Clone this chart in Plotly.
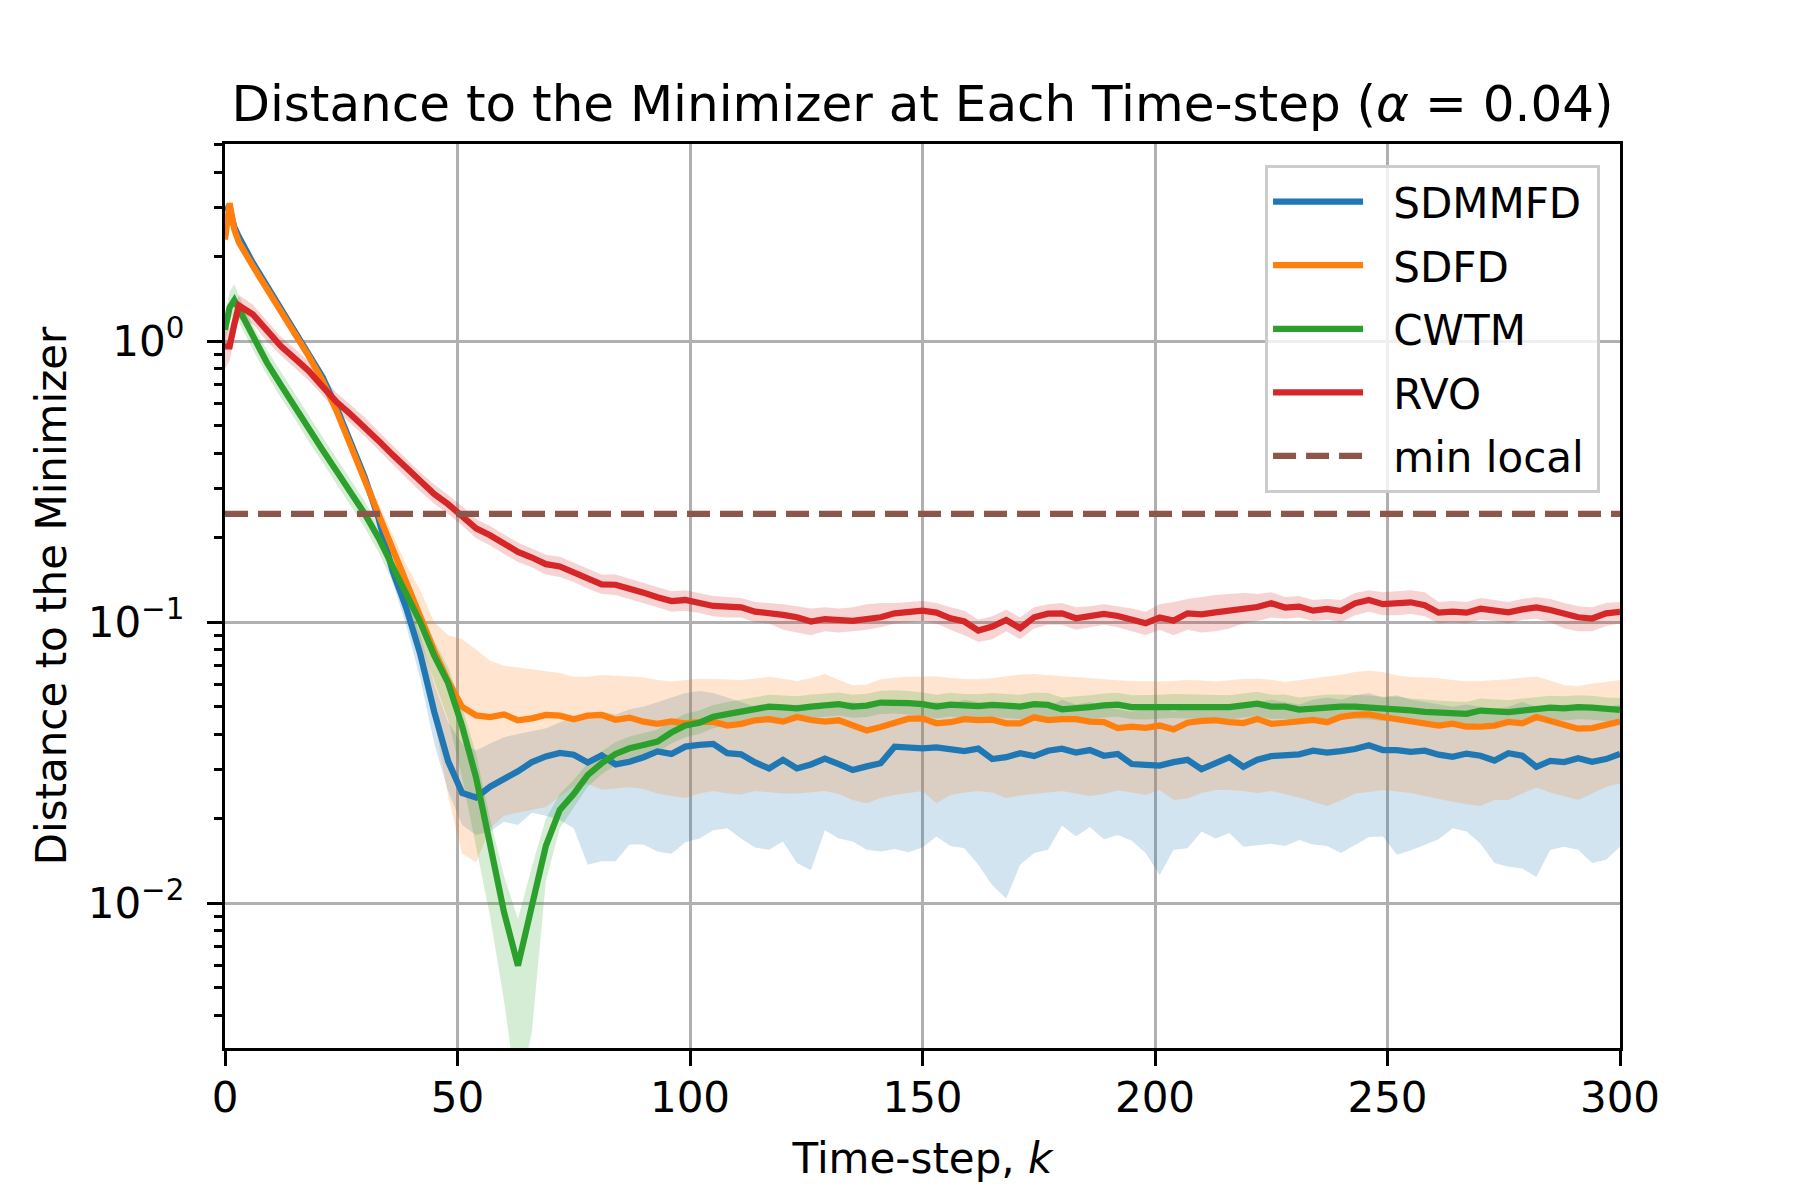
import plotly.graph_objects as go

# time steps: 0, 1, 2, then every 3 steps up to 300
k = [0, 1, 2] + list(range(3, 301, 3))

sdmmfd_mean = [
    3.0, 2.95, 2.55, 2.35, 1.9, 1.58, 1.32, 1.1, 0.91, 0.745, 0.58, 0.44, 0.33, 0.235,
    0.153, 0.112, 0.077, 0.048, 0.032, 0.0247, 0.0238, 0.026, 0.0275, 0.0295, 0.0318, 0.0333, 0.0343, 0.0338,
    0.0317, 0.0336, 0.0312, 0.0319, 0.0331, 0.0347, 0.034, 0.0361, 0.0366, 0.0369, 0.0342, 0.0339, 0.0317,
    0.0302, 0.0324, 0.0302, 0.0312, 0.0327, 0.0313, 0.0298, 0.0307, 0.0315, 0.0361, 0.0359, 0.0356,
    0.0359, 0.0354, 0.0348, 0.0355, 0.0326, 0.0331, 0.0342, 0.0334, 0.0349, 0.0355, 0.0344, 0.0351, 0.0335,
    0.034, 0.0313, 0.0311, 0.0309, 0.0318, 0.0324, 0.030, 0.0315, 0.0331, 0.0306, 0.0324, 0.0334,
    0.0338, 0.0339, 0.0349, 0.0344, 0.0348, 0.0354, 0.0365, 0.0351, 0.0351, 0.0346, 0.0349, 0.0338, 0.0332,
    0.0341, 0.0335, 0.0322, 0.0342, 0.0335, 0.0306, 0.0321, 0.0318, 0.0328, 0.0319, 0.0326, 0.034,
]
sdmmfd_low = [
    2.9, 2.85, 2.45, 2.25, 1.83, 1.52, 1.27, 1.06, 0.875, 0.715, 0.555, 0.42, 0.312, 0.22,
    0.14, 0.097, 0.063, 0.037, 0.025, 0.019, 0.0175, 0.018, 0.0195, 0.019, 0.021, 0.0205, 0.0198, 0.0185,
    0.0137, 0.0141, 0.0141, 0.0162, 0.0162, 0.0153, 0.015, 0.0165, 0.017, 0.0182, 0.0185, 0.017, 0.0158,
    0.0155, 0.0166, 0.0139, 0.0131, 0.0182, 0.017, 0.0166, 0.0155, 0.0153, 0.0156, 0.0152, 0.0158,
    0.0173, 0.016, 0.0157, 0.0137, 0.0116, 0.0104, 0.0137, 0.0151, 0.0155, 0.0189, 0.0173, 0.0187, 0.0169,
    0.0175, 0.0167, 0.0151, 0.0126, 0.0155, 0.0157, 0.018, 0.017, 0.0178, 0.0159, 0.0161, 0.0163,
    0.016, 0.0168, 0.0162, 0.016, 0.0151, 0.0161, 0.0172, 0.0173, 0.0149, 0.0154, 0.0161, 0.0169, 0.0185,
    0.018, 0.0163, 0.0139, 0.0135, 0.0133, 0.0124, 0.0155, 0.0159, 0.0155, 0.0139, 0.0143, 0.0159,
]
sdmmfd_high = [
    3.1, 3.05, 2.65, 2.45, 1.97, 1.64, 1.37, 1.14, 0.945, 0.775, 0.605, 0.46, 0.35, 0.25,
    0.168, 0.125, 0.09, 0.06, 0.044, 0.037, 0.035, 0.037, 0.039, 0.04, 0.041, 0.042, 0.044, 0.046,
    0.047, 0.048, 0.047, 0.049, 0.05, 0.052, 0.054, 0.056, 0.057, 0.056, 0.054, 0.052, 0.05,
    0.049, 0.05, 0.051, 0.05, 0.049, 0.051, 0.052, 0.05, 0.051, 0.053, 0.052, 0.051,
    0.052, 0.051, 0.053, 0.052, 0.05, 0.049, 0.051, 0.052, 0.05, 0.053, 0.051, 0.052, 0.05,
    0.049, 0.048, 0.049, 0.05, 0.048, 0.05, 0.049, 0.05, 0.051, 0.05, 0.052, 0.053,
    0.052, 0.051, 0.053, 0.054, 0.053, 0.055, 0.056, 0.054, 0.055, 0.053, 0.052, 0.051, 0.05,
    0.051, 0.05, 0.049, 0.05, 0.052, 0.05, 0.049, 0.051, 0.05, 0.049, 0.05, 0.051,
]

sdfd_mean = [
    2.3, 3.1, 2.5, 2.25, 1.85, 1.54, 1.29, 1.07, 0.885, 0.724, 0.564, 0.426, 0.321, 0.243,
    0.183, 0.137, 0.1035, 0.079, 0.0617, 0.050, 0.0466, 0.046, 0.047, 0.0448, 0.0455, 0.0468, 0.0465, 0.0452,
    0.0465, 0.0468, 0.045, 0.0458, 0.0443, 0.0435, 0.0444, 0.0437, 0.0441, 0.0443, 0.0429, 0.0435, 0.0448,
    0.0452, 0.0443, 0.046, 0.0449, 0.0443, 0.0448, 0.0431, 0.0412, 0.0424, 0.044, 0.0454, 0.0455,
    0.0437, 0.0441, 0.0452, 0.0449, 0.045, 0.0437, 0.0437, 0.0459, 0.0449, 0.0452, 0.0452, 0.0443, 0.0441,
    0.042, 0.0425, 0.0421, 0.0429, 0.0416, 0.0439, 0.0446, 0.0448, 0.0441, 0.0438, 0.0453, 0.0435,
    0.0439, 0.0446, 0.0449, 0.0441, 0.0461, 0.0468, 0.047, 0.046, 0.0453, 0.0447, 0.0438, 0.0429, 0.0436,
    0.0425, 0.0425, 0.0429, 0.0442, 0.0437, 0.046, 0.0446, 0.0429, 0.0418, 0.042, 0.0433, 0.0443,
]
sdfd_low = [
    2.2, 2.95, 2.42, 2.18, 1.8, 1.5, 1.25, 1.04, 0.86, 0.7, 0.545, 0.41, 0.305, 0.225,
    0.16, 0.11, 0.075, 0.045, 0.024, 0.015, 0.014, 0.0185, 0.0205, 0.021, 0.0215, 0.022, 0.024, 0.026,
    0.0266, 0.0254, 0.0256, 0.0259, 0.0255, 0.0246, 0.0241, 0.0237, 0.0246, 0.0251, 0.0246, 0.0244, 0.0251,
    0.0249, 0.0246, 0.0246, 0.0248, 0.0251, 0.0245, 0.0233, 0.0227, 0.0237, 0.0243, 0.0247, 0.0251,
    0.0227, 0.0243, 0.0248, 0.0251, 0.0248, 0.0237, 0.0242, 0.0245, 0.0249, 0.0251, 0.0246, 0.0241, 0.0245,
    0.0252, 0.0248, 0.0243, 0.0253, 0.0233, 0.0236, 0.0247, 0.0253, 0.0253, 0.0251, 0.0247, 0.0251,
    0.0245, 0.0238, 0.023, 0.0222, 0.0232, 0.0246, 0.0249, 0.0253, 0.025, 0.0247, 0.0241, 0.0235, 0.023,
    0.0225, 0.0222, 0.0233, 0.0233, 0.0246, 0.0258, 0.0248, 0.024, 0.0233, 0.0246, 0.026, 0.0267,
]
sdfd_high = [
    2.4, 3.25, 2.6, 2.33, 1.91, 1.59, 1.33, 1.1, 0.915, 0.75, 0.585, 0.445, 0.34, 0.265,
    0.205, 0.16, 0.13, 0.1, 0.09, 0.087, 0.08, 0.073, 0.070, 0.069, 0.068, 0.067, 0.066, 0.064,
    0.064, 0.0649, 0.0645, 0.0642, 0.0637, 0.0623, 0.0615, 0.0623, 0.063, 0.0628, 0.0625, 0.0623, 0.063,
    0.064, 0.063, 0.0618, 0.0632, 0.0655, 0.0623, 0.0597, 0.06, 0.0627, 0.0635, 0.064, 0.064,
    0.0643, 0.0633, 0.0628, 0.0627, 0.0632, 0.0642, 0.0652, 0.0655, 0.0647, 0.0642, 0.0639, 0.0632, 0.0625,
    0.0622, 0.0618, 0.0615, 0.0615, 0.0618, 0.0623, 0.062, 0.0615, 0.0622, 0.0628, 0.063, 0.0625,
    0.0613, 0.0622, 0.0635, 0.0643, 0.065, 0.0665, 0.0672, 0.0665, 0.0647, 0.0639, 0.0635, 0.0632, 0.0623,
    0.0617, 0.0618, 0.0622, 0.0627, 0.0635, 0.064, 0.062, 0.0597, 0.0592, 0.0606, 0.0613, 0.0623,
]

cwtm_mean = [
    1.1, 1.32, 1.4, 1.3, 1.03, 0.84, 0.70, 0.59, 0.49, 0.41, 0.345, 0.29, 0.244, 0.20,
    0.158, 0.126, 0.1, 0.076, 0.0607, 0.0427, 0.028, 0.0162, 0.0093, 0.006, 0.0098, 0.016, 0.0215, 0.0245,
    0.0286, 0.0315, 0.034, 0.0356, 0.0366, 0.0376, 0.0405, 0.0429, 0.0439, 0.0461, 0.0471, 0.0481, 0.0493,
    0.0501, 0.0498, 0.0494, 0.0501, 0.0507, 0.0511, 0.0501, 0.0505, 0.0518, 0.052, 0.0516, 0.0511,
    0.0501, 0.0509, 0.0504, 0.0503, 0.0508, 0.0504, 0.0501, 0.0511, 0.0508, 0.049, 0.0493, 0.0499, 0.0506,
    0.0509, 0.0499, 0.0499, 0.0501, 0.0504, 0.0503, 0.0501, 0.0501, 0.0499, 0.0506, 0.0513, 0.0501,
    0.0501, 0.0489, 0.0494, 0.0501, 0.0501, 0.0501, 0.0498, 0.0492, 0.0493, 0.0486, 0.048, 0.0477, 0.0474,
    0.0472, 0.0485, 0.0482, 0.0479, 0.0485, 0.0492, 0.0497, 0.0494, 0.0499, 0.0497, 0.049, 0.0488,
]
cwtm_low = [
    0.98, 1.18, 1.26, 1.17, 0.93, 0.76, 0.63, 0.53, 0.44, 0.37, 0.31, 0.26, 0.218, 0.178,
    0.14, 0.11, 0.085, 0.062, 0.045, 0.028, 0.016, 0.009, 0.0045, 0.002, 0.0035, 0.012, 0.0185, 0.022,
    0.026, 0.0288, 0.031, 0.0325, 0.0335, 0.0344, 0.037, 0.039, 0.040, 0.042, 0.043, 0.044, 0.045,
    0.0457, 0.0453, 0.045, 0.0456, 0.0462, 0.0466, 0.0457, 0.046, 0.0472, 0.0474, 0.047, 0.0466,
    0.0455, 0.0462, 0.0456, 0.0455, 0.046, 0.0456, 0.0452, 0.0462, 0.046, 0.0443, 0.0446, 0.0452, 0.0458,
    0.0461, 0.0452, 0.0451, 0.0453, 0.0456, 0.0455, 0.0453, 0.0452, 0.0451, 0.0458, 0.0464, 0.0453,
    0.0454, 0.0443, 0.0447, 0.0454, 0.0454, 0.0453, 0.0451, 0.0445, 0.0446, 0.044, 0.0435, 0.0432, 0.0429,
    0.0428, 0.0439, 0.0437, 0.0434, 0.0439, 0.0446, 0.045, 0.0447, 0.0452, 0.045, 0.0444, 0.0442,
]
cwtm_high = [
    1.25, 1.5, 1.6, 1.45, 1.14, 0.93, 0.78, 0.655, 0.545, 0.455, 0.383, 0.322, 0.27, 0.222,
    0.176, 0.14, 0.112, 0.086, 0.069, 0.05, 0.034, 0.02, 0.0125, 0.0088, 0.0135, 0.02, 0.0245, 0.0275,
    0.0315, 0.0347, 0.0375, 0.0392, 0.0403, 0.0415, 0.0447, 0.0473, 0.0485, 0.0508, 0.052, 0.053, 0.0543,
    0.0552, 0.0549, 0.0545, 0.0553, 0.0559, 0.0563, 0.0552, 0.0557, 0.0571, 0.0573, 0.0569, 0.0563,
    0.0552, 0.0561, 0.0556, 0.0555, 0.056, 0.0556, 0.0552, 0.0563, 0.056, 0.054, 0.0544, 0.055, 0.0558,
    0.0561, 0.055, 0.055, 0.0552, 0.0556, 0.0555, 0.0552, 0.0552, 0.055, 0.0558, 0.0566, 0.0552,
    0.0553, 0.054, 0.0545, 0.0553, 0.0553, 0.0552, 0.0549, 0.0543, 0.0544, 0.0536, 0.053, 0.0527, 0.0523,
    0.0521, 0.0535, 0.0532, 0.0528, 0.0535, 0.0543, 0.0548, 0.0545, 0.055, 0.0548, 0.054, 0.0538,
]

rvo_mean = [
    0.96, 0.96, 1.15, 1.34, 1.245, 1.09, 0.962, 0.869, 0.784, 0.69, 0.608, 0.55, 0.496, 0.443,
    0.395, 0.353, 0.316, 0.286, 0.263, 0.24, 0.216, 0.204, 0.19, 0.178, 0.170, 0.161, 0.158, 0.151,
    0.1434, 0.1365, 0.136, 0.132, 0.1275, 0.1227, 0.119, 0.120, 0.1175, 0.1143, 0.1137, 0.113, 0.1091,
    0.1082, 0.1062, 0.1042, 0.1006, 0.1027, 0.1014, 0.1011, 0.1027, 0.1042, 0.1076, 0.1088, 0.110,
    0.1082, 0.1033, 0.1006, 0.0934, 0.0965, 0.1019, 0.0952, 0.1042, 0.1073, 0.1076, 0.1033, 0.1047, 0.107,
    0.1053, 0.1025, 0.0992, 0.104, 0.1014, 0.1076, 0.1068, 0.1085, 0.110, 0.1121, 0.1133, 0.1168,
    0.1128, 0.1137, 0.110, 0.1115, 0.1097, 0.1168, 0.1201, 0.116, 0.1163, 0.1178, 0.115, 0.1082, 0.1091,
    0.1082, 0.1118, 0.1103, 0.1085, 0.1112, 0.113, 0.1106, 0.1076, 0.1042, 0.1031, 0.1076, 0.1088,
]
rvo_low = [
    0.8, 0.85, 1.02, 1.2, 1.15, 1.0, 0.89, 0.8, 0.725, 0.64, 0.565, 0.51, 0.46, 0.41,
    0.365, 0.326, 0.292, 0.264, 0.243, 0.221, 0.199, 0.188, 0.175, 0.164, 0.157, 0.148, 0.145, 0.139,
    0.132, 0.126, 0.125, 0.121, 0.117, 0.113, 0.109, 0.110, 0.108, 0.105, 0.104, 0.104, 0.1,
    0.099, 0.094, 0.092, 0.09, 0.093, 0.092, 0.093, 0.094, 0.096, 0.099, 0.1, 0.101,
    0.099, 0.094, 0.09, 0.085, 0.087, 0.093, 0.087, 0.095, 0.098, 0.098, 0.094, 0.096, 0.098,
    0.096, 0.093, 0.09, 0.094, 0.09, 0.094, 0.092, 0.093, 0.095, 0.099, 0.101, 0.104,
    0.103, 0.104, 0.101, 0.102, 0.1, 0.106, 0.109, 0.106, 0.106, 0.107, 0.105, 0.099, 0.1,
    0.099, 0.102, 0.101, 0.099, 0.102, 0.103, 0.1, 0.095, 0.093, 0.093, 0.097, 0.099,
]
rvo_high = [
    1.12, 1.12, 1.3, 1.46, 1.35, 1.18, 1.04, 0.94, 0.848, 0.745, 0.656, 0.594, 0.536, 0.478,
    0.427, 0.381, 0.341, 0.309, 0.284, 0.259, 0.233, 0.22, 0.205, 0.192, 0.183, 0.174, 0.171, 0.163,
    0.155, 0.148, 0.148, 0.143, 0.138, 0.133, 0.129, 0.13, 0.127, 0.124, 0.123, 0.122, 0.118,
    0.117, 0.116, 0.114, 0.112, 0.113, 0.112, 0.113, 0.116, 0.117, 0.117, 0.118, 0.119,
    0.117, 0.113, 0.11, 0.102, 0.105, 0.111, 0.104, 0.113, 0.116, 0.117, 0.113, 0.114, 0.116,
    0.114, 0.112, 0.109, 0.116, 0.118, 0.121, 0.123, 0.125, 0.126, 0.127, 0.126, 0.128,
    0.123, 0.124, 0.12, 0.121, 0.12, 0.127, 0.13, 0.128, 0.129, 0.13, 0.128, 0.118, 0.119,
    0.118, 0.122, 0.12, 0.118, 0.121, 0.123, 0.121, 0.117, 0.114, 0.113, 0.117, 0.118,
]

min_local = 0.243

series = [
    ('SDMMFD', sdmmfd_mean, sdmmfd_low, sdmmfd_high, '#1f77b4', 'rgba(31,119,180,0.2)'),
    ('SDFD', sdfd_mean, sdfd_low, sdfd_high, '#ff7f0e', 'rgba(255,127,14,0.2)'),
    ('CWTM', cwtm_mean, cwtm_low, cwtm_high, '#2ca02c', 'rgba(44,160,44,0.2)'),
    ('RVO', rvo_mean, rvo_low, rvo_high, '#d62728', 'rgba(214,39,40,0.2)'),
]

fig = go.Figure()

# shaded bands first
for name, mean, low, high, color, fill in series:
    fig.add_trace(go.Scatter(x=k, y=low, mode='lines', line=dict(width=0),
                             showlegend=False, hoverinfo='skip'))
    fig.add_trace(go.Scatter(x=k, y=high, mode='lines', line=dict(width=0),
                             fill='tonexty', fillcolor=fill,
                             showlegend=False, hoverinfo='skip'))

# small spaces around the names to match the legend spacing of the original
pre, post = '\u2002\u200a', '\u2009'

for name, mean, low, high, color, fill in series:
    fig.add_trace(go.Scatter(x=k, y=mean, mode='lines', name=pre + name + post,
                             legendgroup=name,
                             line=dict(color=color, width=6.25)))

fig.add_trace(go.Scatter(x=[k[0], k[-1]], y=[min_local, min_local], mode='lines',
                         name=pre + 'min local' + post, legendgroup='min local',
                         line=dict(color='#8c564b', width=6.25, dash='23px,10px')))

font = 'DejaVu Sans'
minor_vals = [m * 10.0 ** e for e in (-3, -2, -1, 0) for m in range(2, 10)]

# the page adds an 8px body margin, so the figure is shifted by 8px
fig.update_layout(
    width=1800, height=1200,
    margin=dict(l=217, r=188, t=136, b=160),
    paper_bgcolor='white', plot_bgcolor='white',
    font=dict(family=font, size=42, color='black'),
    title=dict(
        text='Distance to the Minimizer at Each Time-step (<i>α</i> = 0.04)',
        font=dict(size=50, family=font, color='black'),
        x=914.5 / 1800, xanchor='center',
        y=1 - 95 / 1200, yanchor='middle',
    ),
    xaxis=dict(
        range=[0, 300],
        tickvals=[0, 50, 100, 150, 200, 250, 300],
        ticks='outside', ticklen=15, tickwidth=3.3, tickcolor='black',
        ticklabelstandoff=-5,
        showline=True, linewidth=3.3, linecolor='black', mirror=True,
        showgrid=True, gridcolor='#b0b0b0', gridwidth=3.3,
        zeroline=False,
        tickfont=dict(size=42),
        title=dict(text='Time-step, <i>k</i>', font=dict(size=42), standoff=24),
    ),
    yaxis=dict(
        type='log',
        range=[-2.515, 0.702],
        tickvals=[0.01, 0.1, 1],
        ticktext=['10<sup>−2</sup>', '10<sup>−1</sup>', '10<sup>0</sup>'],
        ticks='outside', ticklen=15, tickwidth=3.3, tickcolor='black',
        ticklabelstandoff=14,
        minor=dict(tickvals=minor_vals, ticks='outside', ticklen=8, tickwidth=2.5,
                   tickcolor='black', showgrid=False),
        showline=True, linewidth=3.3, linecolor='black', mirror=True,
        showgrid=True, gridcolor='#b0b0b0', gridwidth=3.3,
        zeroline=False,
        tickfont=dict(size=42),
        title=dict(text='Distance to the Minimizer', font=dict(size=42), standoff=8),
    ),
    legend=dict(
        x=0.9857, y=0.977, xanchor='right', yanchor='top',
        traceorder='grouped', tracegroupgap=6,
        bgcolor='rgba(255,255,255,0.8)', bordercolor='#cccccc', borderwidth=3,
        font=dict(size=42, family=font),
        itemwidth=90,
    ),
)

fig.write_html('out.html')
